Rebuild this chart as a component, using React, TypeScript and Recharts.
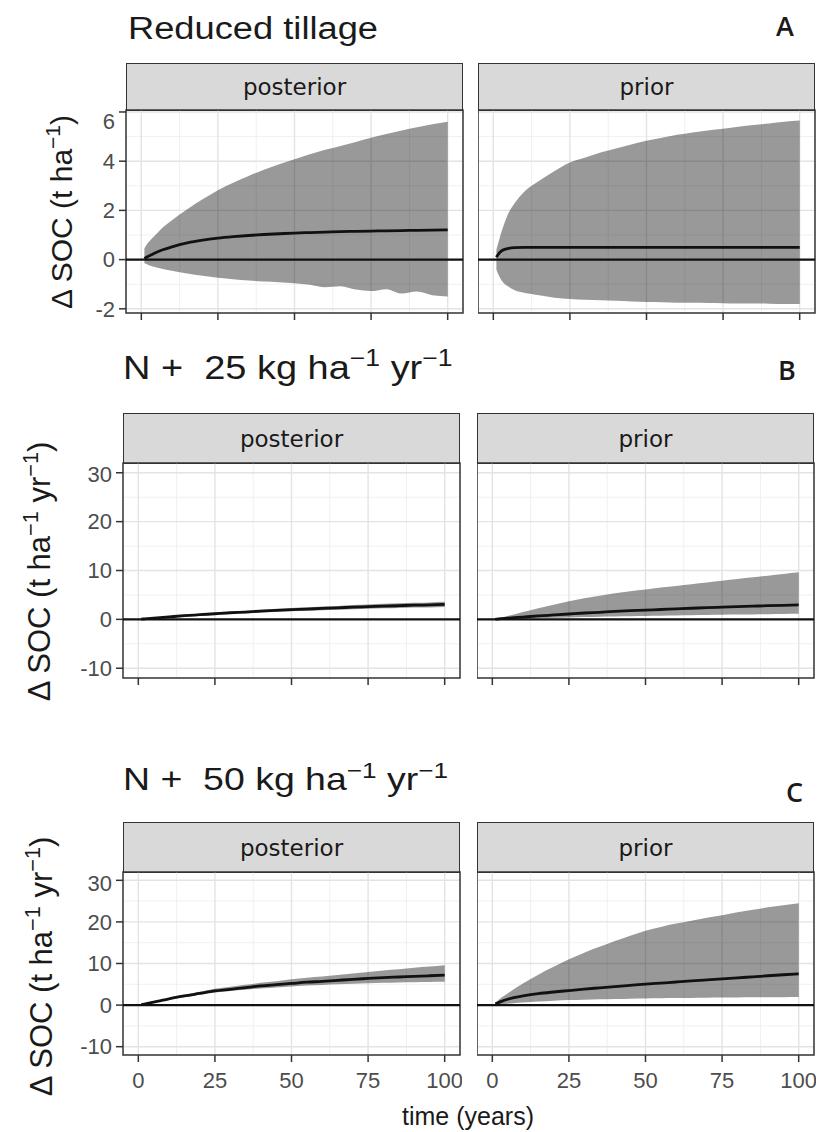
import React from 'react'
import { ComposedChart, Area, Line, XAxis, YAxis, CartesianGrid, ReferenceLine, ReferenceArea } from 'recharts'

const YEARS = [1, 2, 3, 5, 7, 10, 15, 20, 25, 30, 35, 40, 45, 50, 55, 60, 65, 70, 75, 80, 85, 90, 95, 100]
const X_TICKS = [0, 25, 50, 75, 100]
const X_MINOR = [12.5, 37.5, 62.5, 87.5]

// A: reduced tillage
const A_POST_HI = [0.45, 0.65, 0.8, 1.05, 1.3, 1.6, 2.05, 2.45, 2.82, 3.12, 3.4, 3.65, 3.88, 4.08, 4.28, 4.46, 4.62, 4.78, 4.95, 5.1, 5.25, 5.38, 5.5, 5.6]
const A_POST_LO = [-0.15, -0.2, -0.25, -0.32, -0.38, -0.45, -0.56, -0.66, -0.74, -0.8, -0.85, -0.89, -0.92, -0.96, -1.02, -1.12, -1.08, -1.22, -1.28, -1.2, -1.38, -1.3, -1.45, -1.5]
const A_POST_MEAN = [0.05, 0.12, 0.18, 0.3, 0.4, 0.52, 0.68, 0.79, 0.87, 0.93, 0.98, 1.02, 1.05, 1.08, 1.1, 1.12, 1.14, 1.15, 1.16, 1.17, 1.18, 1.19, 1.2, 1.21]
const A_PRIOR_HI = [0.4, 0.85, 1.25, 1.9, 2.3, 2.75, 3.2, 3.6, 3.95, 4.15, 4.35, 4.52, 4.68, 4.83, 4.95, 5.07, 5.17, 5.25, 5.32, 5.4, 5.47, 5.53, 5.6, 5.65]
const A_PRIOR_LO = [-0.4, -0.7, -0.9, -1.1, -1.25, -1.35, -1.45, -1.55, -1.6, -1.63, -1.65, -1.67, -1.7, -1.72, -1.73, -1.75, -1.75, -1.76, -1.77, -1.78, -1.78, -1.79, -1.8, -1.8]
const A_PRIOR_MEAN = [0.1, 0.28, 0.38, 0.46, 0.49, 0.5, 0.5, 0.5, 0.5, 0.5, 0.5, 0.5, 0.5, 0.5, 0.5, 0.5, 0.5, 0.5, 0.5, 0.5, 0.5, 0.5, 0.5, 0.5]

// B: N + 25
const B_POST_HI = [0.06, 0.12, 0.18, 0.3, 0.42, 0.6, 0.88, 1.12, 1.35, 1.58, 1.76, 1.98, 2.16, 2.33, 2.46, 2.63, 2.76, 2.93, 3.05, 3.17, 3.29, 3.4, 3.47, 3.58]
const B_POST_LO = [0.04, 0.08, 0.12, 0.2, 0.28, 0.4, 0.62, 0.78, 0.95, 1.12, 1.24, 1.42, 1.54, 1.67, 1.75, 1.88, 1.96, 2.08, 2.16, 2.25, 2.33, 2.41, 2.45, 2.53]
const B_POST_MEAN = [0.05, 0.1, 0.15, 0.25, 0.35, 0.5, 0.75, 0.95, 1.15, 1.35, 1.5, 1.7, 1.85, 2.0, 2.1, 2.25, 2.35, 2.5, 2.6, 2.7, 2.8, 2.9, 2.95, 3.05]
const B_PRIOR_HI = [0.1, 0.25, 0.4, 0.7, 1.0, 1.5, 2.3, 3.0, 3.7, 4.3, 4.85, 5.35, 5.75, 6.1, 6.5, 6.85, 7.2, 7.55, 7.9, 8.25, 8.6, 8.95, 9.3, 9.65]
const B_PRIOR_LO = [0, 0.02, 0.04, 0.08, 0.12, 0.18, 0.26, 0.33, 0.4, 0.46, 0.52, 0.57, 0.62, 0.67, 0.72, 0.77, 0.82, 0.87, 0.92, 0.97, 1.02, 1.07, 1.12, 1.17]
const B_PRIOR_MEAN = [0.04, 0.09, 0.14, 0.23, 0.33, 0.47, 0.7, 0.9, 1.1, 1.3, 1.45, 1.62, 1.77, 1.9, 2.02, 2.15, 2.27, 2.4, 2.5, 2.6, 2.7, 2.8, 2.88, 2.95]

// C: N + 50
const C_POST_HI = [0.11, 0.28, 0.45, 0.78, 1.12, 1.7, 2.5, 3.2, 3.9, 4.4, 4.9, 5.35, 5.75, 6.2, 6.6, 6.9, 7.25, 7.6, 7.95, 8.3, 8.6, 8.95, 9.25, 9.6]
const C_POST_LO = [0.09, 0.22, 0.35, 0.62, 0.88, 1.3, 1.9, 2.5, 3.05, 3.4, 3.7, 4.0, 4.25, 4.5, 4.7, 4.85, 5.0, 5.15, 5.25, 5.35, 5.45, 5.5, 5.55, 5.6]
const C_POST_MEAN = [0.1, 0.25, 0.4, 0.7, 1.0, 1.5, 2.2, 2.8, 3.4, 3.8, 4.2, 4.6, 4.9, 5.2, 5.5, 5.7, 5.95, 6.2, 6.4, 6.6, 6.75, 6.9, 7.05, 7.2]
const C_PRIOR_HI = [0.5, 1.2, 1.8, 2.8, 3.8, 5.2, 7.3, 9.2, 11.0, 12.6, 14.0, 15.4, 16.7, 17.9, 18.8, 19.6, 20.3, 21.0, 21.6, 22.3, 22.9, 23.5, 24.0, 24.5]
const C_PRIOR_LO = [0.05, 0.1, 0.15, 0.3, 0.45, 0.6, 0.85, 1.05, 1.2, 1.3, 1.38, 1.45, 1.52, 1.58, 1.63, 1.68, 1.72, 1.76, 1.8, 1.83, 1.86, 1.88, 1.9, 1.92]
const C_PRIOR_MEAN = [0.3, 0.6, 0.9, 1.4, 1.8, 2.2, 2.75, 3.15, 3.5, 3.85, 4.15, 4.45, 4.75, 5.05, 5.3, 5.55, 5.8, 6.05, 6.3, 6.55, 6.8, 7.05, 7.3, 7.5]

const A_TICKS = [-2, 0, 2, 4, 6]
const A_MINOR = [-1, 1, 3, 5]
const N_TICKS = [-10, 0, 10, 20, 30]
const N_MINOR = [-5, 5, 15, 25]

const build = (lo: number[], hi: number[], mean: number[]) =>
  YEARS.map((t, i) => ({ t, band: [lo[i], hi[i]], mean: mean[i] }))

const SANS = '"Liberation Sans", Arial, sans-serif'
const AXIS_W = 70
const PLOT_W = 337
const BORDER = '#333333'

function Sup({ children }: { children: React.ReactNode }) {
  return <span style={{ fontSize: '0.7em', position: 'relative', top: '-0.55em' }}>{children}</span>
}

const NoLabel = () => <g />

function Panel({ data, left, top, height, domain, ticks, minor, showY, showX, strip }: any) {
  const axisW = showY ? AXIS_W : 0
  const xh = showX ? 45 : 10
  return (
    <>
      <div style={{
        position: 'absolute', left, top: top - strip.h, width: PLOT_W, height: strip.h + 1,
        background: '#d9d9d9', border: `1.3px solid ${BORDER}`, boxSizing: 'border-box',
        display: 'flex', alignItems: 'center', justifyContent: 'center',
        fontFamily: '"DejaVu Sans", sans-serif', fontSize: 23, color: '#1a1a1a',
      }}>{strip.text}</div>
      <div style={{ position: 'absolute', left: left - axisW, top: top - 2 }}>
        <ComposedChart width={axisW + PLOT_W + 2} height={height + xh + 2} data={data}
          margin={{ top: 2, right: 2, bottom: 0, left: 0 }}>
          <CartesianGrid horizontalValues={minor} verticalValues={X_MINOR} stroke="#f0f0f0" strokeWidth={1} />
          <CartesianGrid horizontalValues={ticks} verticalValues={X_TICKS} stroke="#e3e3e3" strokeWidth={1.4} />
          <XAxis dataKey="t" type="number" domain={[-5, 105]} ticks={X_TICKS} allowDataOverflow
            height={xh} axisLine={false} tickSize={7} tickMargin={10}
            tickLine={{ stroke: BORDER, strokeWidth: 1.5 }}
            tick={showX ? { fontSize: 22, fill: '#4d4d4d', fontFamily: SANS } : NoLabel} />
          <YAxis type="number" domain={domain} ticks={ticks} allowDataOverflow hide={!showY}
            width={axisW} axisLine={false} tickSize={7} tickMargin={4}
            tickLine={{ stroke: BORDER, strokeWidth: 1.5 }}
            tick={{ fontSize: 22, fill: '#4d4d4d', fontFamily: SANS }} />
          <Area dataKey="band" type="monotone" stroke="none" fill="#000000" fillOpacity={0.4} isAnimationActive={false} />
          <ReferenceLine y={0} stroke="#111111" strokeWidth={2.4} />
          <Line dataKey="mean" type="monotone" stroke="#111111" strokeWidth={2.8} dot={false} isAnimationActive={false} />
          <ReferenceArea x1={-5} x2={105} y1={domain[0]} y2={domain[1]} fill="none" fillOpacity={0}
            stroke={BORDER} strokeWidth={1.5} strokeOpacity={1} />
        </ComposedChart>
      </div>
    </>
  )
}

const ROWS = [
  {
    top: 110, height: 203, stripH: 47, lefts: [126, 478], domain: [-2.17, 6.08], ticks: A_TICKS, minor: A_MINOR,
    data: [build(A_POST_LO, A_POST_HI, A_POST_MEAN), build(A_PRIOR_LO, A_PRIOR_HI, A_PRIOR_MEAN)], showX: false,
  },
  {
    top: 463, height: 215, stripH: 50, lefts: [123, 477], domain: [-12, 32], ticks: N_TICKS, minor: N_MINOR,
    data: [build(B_POST_LO, B_POST_HI, B_POST_MEAN), build(B_PRIOR_LO, B_PRIOR_HI, B_PRIOR_MEAN)], showX: false,
  },
  {
    top: 872, height: 183, stripH: 50, lefts: [123, 477], domain: [-12, 32], ticks: N_TICKS, minor: N_MINOR,
    data: [build(C_POST_LO, C_POST_HI, C_POST_MEAN), build(C_PRIOR_LO, C_PRIOR_HI, C_PRIOR_MEAN)], showX: true,
  },
]

const FACETS = ['posterior', 'prior']

function YTitle({ cx, cy, fs, children }: any) {
  return (
    <div style={{
      position: 'absolute', left: cx - 150, top: cy - fs / 2, width: 300, height: fs, lineHeight: `${fs}px`,
      textAlign: 'center', fontFamily: SANS, fontSize: fs, color: '#1a1a1a', whiteSpace: 'nowrap',
      transform: 'rotate(-90deg)', transformOrigin: '150px 50%',
    }}>{children}</div>
  )
}

export default function App() {
  const title = { position: 'absolute' as const, fontFamily: SANS, color: '#1a1a1a', whiteSpace: 'nowrap' as const, transformOrigin: 'left center', lineHeight: 1 }
  const letter = { position: 'absolute' as const, fontFamily: '"Open Sans", sans-serif', fontWeight: 600, fontSize: 27, color: '#1a1a1a', lineHeight: 1 }
  return (
    <div style={{ position: 'absolute', left: 0, top: 0, width: 828, height: 1132, background: '#ffffff', overflow: 'hidden' }}>
      <div style={{ ...title, left: 128, top: 13, fontSize: 31, transform: 'scaleX(1.17)' }}>Reduced tillage</div>
      <div style={{ ...title, left: 123, top: 351, fontSize: 33, transform: 'scaleX(1.15)' }}>
        N +&nbsp; 25 kg ha<Sup>−1</Sup> yr<Sup>−1</Sup>
      </div>
      <div style={{ ...title, left: 123, top: 763, fontSize: 32, transform: 'scaleX(1.17)' }}>
        N +&nbsp; 50 kg ha<Sup>−1</Sup> yr<Sup>−1</Sup>
      </div>
      <div style={{ ...letter, left: 776, top: 12 }}>A</div>
      <div style={{ ...letter, left: 778, top: 356 }}>B</div>
      <div style={{ ...letter, left: 786, top: 778 }}>C</div>

      <YTitle cx={62} cy={212} fs={30}>Δ SOC (t ha<Sup>−1</Sup>)</YTitle>
      <YTitle cx={39} cy={571} fs={31}>Δ SOC (t ha<Sup>−1</Sup> yr<Sup>−1</Sup>)</YTitle>
      <YTitle cx={41} cy={966} fs={31}>Δ SOC (t ha<Sup>−1</Sup> yr<Sup>−1</Sup>)</YTitle>

      {ROWS.map((r, ri) => r.lefts.map((left, ci) => (
        <Panel key={ri + '-' + ci} data={r.data[ci]} left={left} top={r.top} height={r.height}
          domain={r.domain} ticks={r.ticks} minor={r.minor} showY={ci === 0} showX={r.showX}
          strip={{ h: r.stripH, text: FACETS[ci] }} />
      )))}

      <div style={{ position: 'absolute', left: 0, width: 828, top: 1104, textAlign: 'center', paddingLeft: 108, boxSizing: 'border-box', fontFamily: SANS, fontSize: 25, color: '#1a1a1a', lineHeight: 1 }}>
        time (years)
      </div>
    </div>
  )
}
